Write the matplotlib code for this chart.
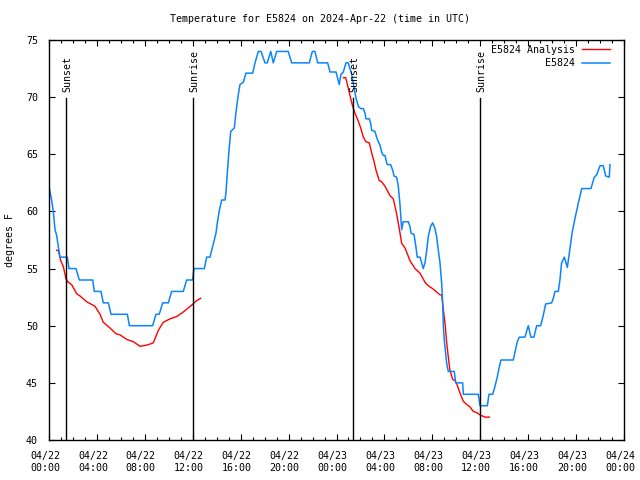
import numpy as np
import matplotlib
matplotlib.use("Agg")
import matplotlib.pyplot as plt
from matplotlib.transforms import ScaledTranslation

# hours since 2024-04-22 00:00 UTC
blue_h = [0.03, 0.22, 0.36, 0.50, 0.64, 0.78, 0.92, 1.53, 1.67, 2.25, 2.53, 3.65, 3.78, 4.34,
          4.53, 4.95, 5.18, 6.54, 6.71, 8.65, 8.93, 9.20, 9.49, 9.96, 10.24, 11.21, 11.49, 11.99,
          12.10, 12.97, 13.16, 13.44, 13.63, 13.80, 13.94, 14.05, 14.22, 14.42, 14.69, 14.77,
          14.88, 15.03, 15.17, 15.47, 15.61, 15.80, 15.94, 16.22, 16.44, 17.00, 17.20, 17.47,
          17.70, 18.03, 18.22, 18.51, 18.72, 19.01, 19.97, 20.26, 21.73, 21.98, 22.20, 22.43,
          23.26, 23.46, 23.96, 24.23, 24.37, 24.57, 24.79, 24.98, 25.27, 25.40, 25.63, 25.82,
          26.02, 26.24, 26.38, 26.46, 26.74, 26.85, 26.94, 27.21, 27.35, 27.49, 27.63, 27.77,
          27.90, 28.05, 28.13, 28.24, 28.52, 28.69, 28.80, 29.02, 29.16, 29.30, 29.44, 29.57,
          29.99, 30.13, 30.22, 30.47, 30.63, 30.74, 30.97, 31.11, 31.24, 31.39, 31.53, 31.66,
          31.86, 32.03, 32.22, 32.36, 32.50, 32.64, 32.78, 32.86, 32.92, 33.00, 33.20, 33.33,
          33.47, 33.53, 33.83, 33.95, 34.53, 34.59, 35.84, 35.98, 36.59, 36.73, 37.04, 37.23,
          37.42, 37.59, 37.73, 38.76, 38.90, 39.09, 39.26, 39.73, 40.01, 40.23, 40.48, 40.71,
          41.04, 41.26, 41.46, 41.96, 42.10, 42.24, 42.52, 42.65, 42.79, 43.02, 43.27, 43.49,
          43.68, 43.91, 44.18, 44.47, 45.24, 45.52, 45.72, 46.00, 46.27, 46.47, 46.77, 46.83]
blue_t = [62.0, 61.0, 60.0, 58.4, 57.9, 56.9, 56.0, 56.0, 55.0, 55.0, 54.0, 54.0, 53.0, 53.0,
          52.0, 52.0, 51.0, 51.0, 50.0, 50.0, 51.0, 51.0, 52.0, 52.0, 53.0, 53.0, 54.0, 54.0,
          55.0, 55.0, 56.0, 56.0, 56.8, 57.5, 58.1, 59.0, 60.1, 61.0, 61.0, 61.6,
          63.3, 65.4, 67.0, 67.3, 68.7, 70.2, 71.1, 71.3, 72.1, 72.1, 73.0, 74.0,
          74.0, 73.0, 73.0, 74.0, 73.0, 74.0, 74.0, 73.0, 73.0, 74.0, 74.0, 73.0,
          73.0, 72.2, 72.2, 71.1, 72.0, 72.2, 73.0, 73.0, 72.0, 71.2, 69.9, 69.2,
          69.0, 69.0, 68.6, 68.1, 68.1, 67.7, 67.1, 67.0, 66.5, 66.1, 65.8, 65.2,
          64.9, 64.9, 64.5, 64.1, 64.1, 63.6, 63.1, 63.0, 62.2, 60.6, 58.4, 59.1,
          59.1, 58.7, 58.1, 58.0, 56.9, 56.0, 56.0, 55.5, 55.0, 55.5, 56.6, 57.8,
          58.7, 59.0, 58.5, 57.8, 56.6, 55.5, 53.7, 52.0, 50.0, 48.7, 46.7, 46.0,
          46.0, 46.0, 46.0, 45.0, 45.0, 44.0, 44.0, 43.0, 43.0, 44.0, 44.0, 44.7,
          45.5, 46.4, 47.0, 47.0, 47.7, 48.6, 49.0, 49.0, 50.0, 49.0, 49.0, 50.0,
          50.0, 50.9, 51.9, 52.0, 52.4, 53.0, 53.0, 54.0, 55.5, 56.0, 55.1, 56.8,
          58.2, 59.4, 60.7, 62.0, 62.0, 63.0, 63.2, 64.0, 64.0, 63.1, 63.0, 64.1]

red1_h = [0.64, 0.78, 0.97, 1.19, 1.42, 1.61, 1.89, 2.31, 2.59, 3.14, 3.84, 4.26, 4.53, 5.09,
          5.59, 5.93, 6.49, 7.04, 7.60, 8.16, 8.71, 9.13, 9.54, 10.10, 10.66, 11.21, 11.91,
          12.33, 12.66]
red1_t = [56.6, 56.6, 55.7, 55.2, 54.1, 53.8, 53.6, 52.8, 52.6, 52.1, 51.7, 51.0, 50.3, 49.8,
          49.3, 49.2, 48.8, 48.6, 48.2, 48.3, 48.5, 49.6, 50.3, 50.6, 50.8, 51.2, 51.8,
          52.2, 52.4]
red2_h = [24.57, 24.77, 24.98, 25.18, 25.35, 25.54, 25.82, 26.02, 26.24, 26.46, 26.74, 26.94,
          27.15, 27.30, 27.57, 27.77, 28.05, 28.46, 28.74, 29.02, 29.24, 29.44, 29.72, 30.13,
          30.55, 30.97, 31.39, 31.66, 32.08, 32.64, 32.78, 32.91, 33.06, 33.20, 33.33, 33.47,
          33.70, 33.89, 34.08, 34.31, 34.58, 34.87, 35.14, 35.42, 35.70, 35.98, 36.39, 36.76]
red2_t = [71.7, 71.7, 70.8, 69.9, 69.2, 68.6, 67.9, 67.3, 66.5, 66.1, 66.0, 65.1,
          64.3, 63.6, 62.7, 62.6, 62.2, 61.4, 61.1, 59.8, 58.5, 57.2, 56.8, 55.7,
          55.0, 54.6, 53.8, 53.5, 53.2, 52.7, 52.7, 51.5, 50.2, 48.5, 47.3, 46.1,
          45.3, 45.2, 44.8, 44.1, 43.4, 43.1, 42.9, 42.5, 42.4, 42.2, 42.0, 42.0]

sun_h = [1.42, 12.02, 25.38, 35.98]
sun_labels = ["Sunset", "Sunrise", "Sunset", "Sunrise"]

xtick_h = list(range(0, 49, 4))
xtick_labels = ["04/22\n00:00", "04/22\n04:00", "04/22\n08:00", "04/22\n12:00",
                "04/22\n16:00", "04/22\n20:00", "04/23\n00:00", "04/23\n04:00",
                "04/23\n08:00", "04/23\n12:00", "04/23\n16:00", "04/23\n20:00",
                "04/24\n00:00"]
ytick_vals = [40, 45, 50, 55, 60, 65, 70, 75]

plt.rcParams['font.family'] = ['DejaVu Sans Mono']
fs = 7.2

fig = plt.figure(figsize=(6.4, 4.8), dpi=100)
ax = fig.add_axes([49 / 640, 40 / 480, 575 / 640, 400 / 480])

red_h = red1_h + [np.nan] + red2_h
red_t = red1_t + [np.nan] + red2_t
ax.plot(red_h, red_t, color="#ff0000", lw=1.0, label="E5824 Analysis")
ax.plot(blue_h, blue_t, color="#0a84ff", lw=1.1, label="E5824")

for h, lab in zip(sun_h, sun_labels):
    ax.axvline(h, ymin=0, ymax=0.855, color="black", lw=1.0)
    ax.text(h + 0.1, 0.87, lab, transform=ax.get_xaxis_transform(), rotation=90,
            ha="center", va="bottom", fontsize=fs)

ax.set_xlim(0, 48)
ax.set_ylim(40, 75)
ax.set_xticks(xtick_h)
ax.set_xticklabels(xtick_labels, fontsize=fs, linespacing=1.25)
ax.set_xticks(range(0, 49), minor=True)
ax.set_yticks(ytick_vals)
ax.set_yticklabels([str(v) for v in ytick_vals], fontsize=fs)
ax.tick_params(which="both", direction="in", top=True, right=True)
ax.tick_params(which="major", length=4, width=0.8)
ax.tick_params(which="minor", length=2, width=0.8)
ax.tick_params(axis="x", which="major", pad=8)
ax.tick_params(axis="y", which="major", pad=8)
shift = ScaledTranslation(-4 / 100, 0, fig.dpi_scale_trans)
for lbl in ax.get_xticklabels():
    lbl.set_transform(lbl.get_transform() + shift)
for s in ax.spines.values():
    s.set_linewidth(1.0)

ax.set_ylabel("degrees F", fontsize=fs, labelpad=8)
fig.text(0.5, 1 - 19 / 480, "Temperature for E5824 on 2024-Apr-22 (time in UTC)",
         ha="center", va="center", fontsize=fs)

ax.legend(loc="upper right", bbox_to_anchor=(1 - 14 / 575, 1 - 5 / 400), frameon=False,
          markerfirst=False, fontsize=fs, handlelength=2.8, handletextpad=0.7,
          labelspacing=0.35, borderaxespad=0, borderpad=0)

fig.savefig("out.png", dpi=100)
